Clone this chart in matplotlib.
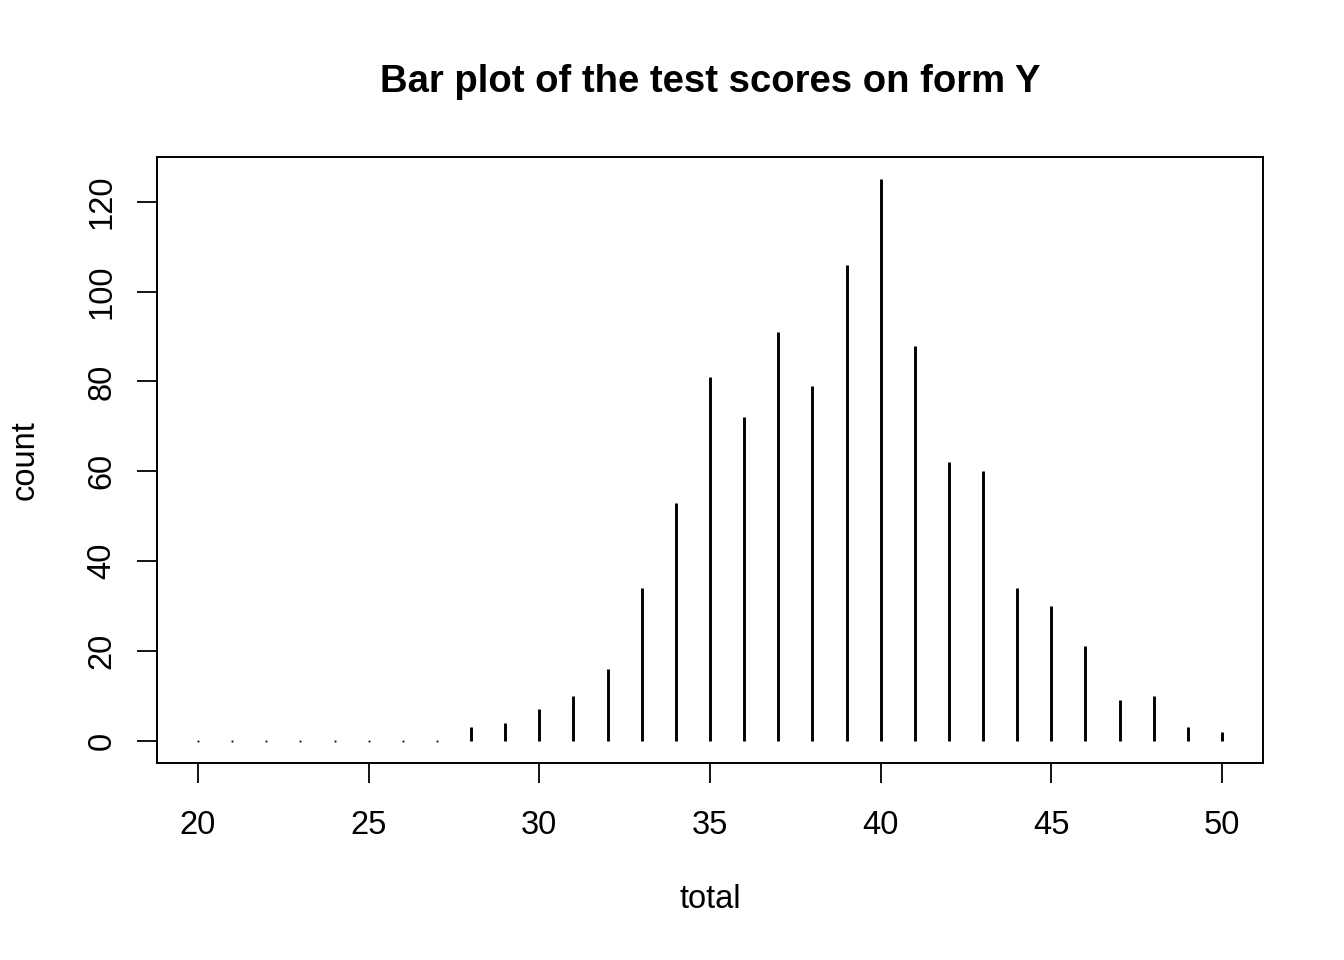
import matplotlib
matplotlib.use("Agg")
import matplotlib.pyplot as plt

plt.rcParams['font.family'] = ['Liberation Sans', 'DejaVu Sans']

totals = list(range(20, 51))
counts = [0, 0, 0, 0, 0, 0, 0, 0, 3, 4, 7, 10, 16, 34, 53, 81, 72, 91, 79, 106,
          125, 88, 62, 60, 34, 30, 21, 9, 10, 3, 2]
xticks = [20, 25, 30, 35, 40, 45, 50]
yticks = [0, 20, 40, 60, 80, 100, 120]

W, H = 1344, 960
fig = plt.figure(figsize=(W / 100, H / 100), dpi=100)
L, R, T, B = 157, 1263, 157, 763
ax = fig.add_axes([L / W, 1 - B / H, (R - L) / W, (B - T) / H])

ax.vlines(totals, 0, counts, colors='black', linewidth=2.1)
zero_x = [t for t, c in zip(totals, counts) if c == 0]
ax.plot(zero_x, [0] * len(zero_x), linestyle='none', marker='s',
        markersize=1.3, color='black', markeredgewidth=0)

ax.set_xlim(18.8, 51.2)
ax.set_ylim(-5, 130)
ax.set_xticks(xticks)
ax.set_yticks(yticks)
ax.set_xticklabels([str(v) for v in xticks])
ax.set_yticklabels([str(v) for v in yticks], rotation=90, va='center')

ax.tick_params(axis='both', direction='out', length=14.5, width=1.3,
               labelsize=23.5, color='black')
ax.tick_params(axis='x', pad=19)
ax.tick_params(axis='y', pad=14)
for s in ax.spines.values():
    s.set_linewidth(1.4)
    s.set_color('black')

fig.text(710 / W, 1 - 82 / H, 'Bar plot of the test scores on form Y',
         ha='center', va='center', fontsize=27.5, fontweight='bold')
fig.text(710 / W, 1 - 900 / H, 'total', ha='center', va='center', fontsize=23.5)
fig.text(25 / W, 1 - 460 / H, 'count', ha='center', va='center', fontsize=23.5,
         rotation=90)

fig.savefig('out.png', dpi=100)
